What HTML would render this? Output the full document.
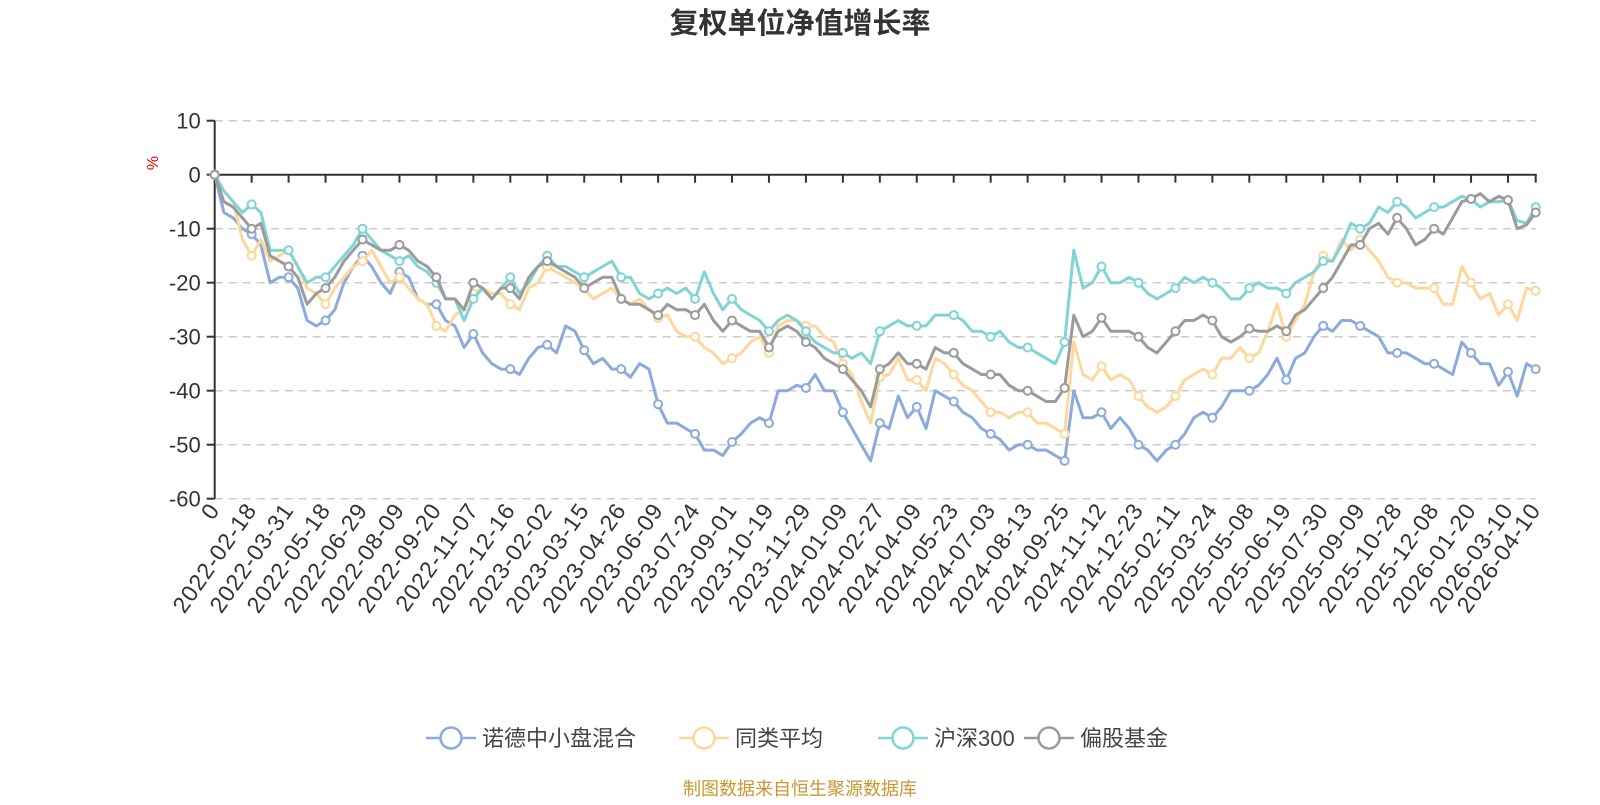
<!DOCTYPE html>
<html><head><meta charset="utf-8"><title>复权单位净值增长率</title>
<style>
html,body{margin:0;padding:0;background:#fff;}
body{width:1600px;height:800px;overflow:hidden;font-family:"Liberation Sans","Noto Sans CJK SC",sans-serif;}
svg text{font-family:"Liberation Sans","Noto Sans CJK SC",sans-serif;}
</style></head>
<body>
<svg id="chart" width="1600" height="800" xmlns="http://www.w3.org/2000/svg">
<text x="800" y="33" text-anchor="middle" font-size="29" font-weight="bold" fill="#333">复权单位净值增长率</text>
<text transform="translate(158,163) rotate(-90)" text-anchor="middle" font-size="16" fill="#e00">%</text>
<g id="grid"></g>
<g id="axes"></g>
<g id="series"></g>
<g id="legend"></g>
<text x="800" y="795" text-anchor="middle" font-size="18" fill="#c9962f">制图数据来自恒生聚源数据库</text>
</svg>
<script>
const xLabels = ["0","2022-02-18","2022-03-31","2022-05-18","2022-06-29","2022-08-09","2022-09-20","2022-11-07","2022-12-16","2023-02-02","2023-03-15","2023-04-26","2023-06-09","2023-07-24","2023-09-01","2023-10-19","2023-11-29","2024-01-09","2024-02-27","2024-04-09","2024-05-23","2024-07-03","2024-08-13","2024-09-25","2024-11-12","2024-12-23","2025-02-11","2025-03-24","2025-05-08","2025-06-19","2025-07-30","2025-09-09","2025-10-28","2025-12-08","2026-01-20","2026-03-10","2026-04-10"];
const yTicks = [10,0,-10,-20,-30,-40,-50,-60];
const seriesNames = ["诺德中小盘混合","同类平均","沪深300","偏股基金"];
const fundValues = [0,-7,-8,-10,-11,-13,-20,-19,-19,-21,-27,-28,-27,-25,-20,-17,-15,-17,-20,-22,-18,-19,-23,-24,-24,-27,-28,-32,-29.5,-33,-35,-36,-36,-37,-34,-32,-31.5,-33,-28,-29,-32.5,-35,-34,-36,-36,-37.5,-35,-36,-42.5,-46,-46,-47,-48,-51,-51,-52,-49.5,-48,-46,-45,-46,-40,-40,-39,-39.5,-37,-40,-40,-44,-47,-50,-53,-46,-47,-41,-45,-43,-47,-40,-41,-42,-44,-45,-47,-48,-49,-51,-50,-50,-51,-51,-52,-53,-40,-45,-45,-44,-47,-45,-47,-50,-51,-53,-51,-50,-48,-45,-44,-45,-43,-40,-40,-40,-39,-37,-34,-38,-34,-33,-30,-28,-29,-27,-27,-28,-29,-30,-33,-33,-33,-34,-35,-35,-36,-37,-31,-33,-35,-35,-39,-36.5,-41,-35,-36];
const peerValues = [0,-3,-5,-12,-15,-12,-16,-15,-14,-17,-21,-22,-24,-21,-19,-17,-16,-14,-17,-20,-19,-21,-23,-24,-28,-29,-26,-25,-22,-21,-22,-22,-24,-25,-21,-20,-17,-18,-19,-20,-21,-23,-22,-21,-23,-24,-23,-25,-26.5,-26,-29,-30,-30,-32,-33,-35,-34,-33,-31,-30,-33,-28,-27,-27,-28,-28,-30,-31,-35,-37,-42,-46,-37.5,-37,-34,-38,-38,-40,-34,-35,-37,-39,-40,-42,-44,-44,-45,-44,-44,-46,-46,-47,-48,-31,-37,-38,-35.5,-38,-37,-38,-41,-43,-44,-43,-41,-38,-37,-36,-37,-34,-34,-32,-34,-33,-29,-24,-30,-27,-24,-18,-15,-16,-12,-14,-12,-14,-16,-19,-20,-20,-21,-21,-21,-24,-24,-17,-20,-23,-22,-26,-24,-27,-21,-21.5];
const indexValues = [0,-3,-5,-7,-5.5,-7,-14,-14,-14,-17,-20,-19,-19,-17,-15,-13,-10,-12,-14,-15,-16,-15,-17,-18,-20,-23,-23,-27,-23,-21,-23,-21,-19,-22,-20,-17,-15,-17,-17,-18,-19,-18,-17,-16,-19,-19,-22,-23,-22,-21,-22,-21,-23,-18,-22,-25,-23,-25,-26,-27,-29,-27,-26,-27,-29,-31,-32,-33,-33,-34,-33,-35,-29,-28,-27,-28,-28,-28,-26,-26,-26,-27,-29,-29,-30,-29,-31,-32,-32,-33,-34,-35,-31,-14,-21,-20,-17,-20,-20,-19,-20,-22,-23,-22,-21,-19,-20,-19,-20,-21,-23,-23,-21,-20,-21,-21,-22,-20,-19,-18,-16,-16,-13,-9,-10,-9,-6,-7,-5,-6,-8,-7,-6,-6,-5,-4,-4.5,-6,-5,-5,-4.7,-8.5,-9,-6];
const equityValues = [0,-5,-6,-8,-10,-9,-15,-16,-17,-19,-24,-22,-21,-19,-16,-14,-12,-13,-14,-14,-13,-14,-16,-17,-19,-23,-23,-25,-20,-21,-23,-21,-21,-23,-19,-17,-16,-17,-18,-19,-21,-20,-19,-19,-23,-24,-24,-25,-26,-24,-25,-25,-26,-24,-27,-29,-27,-28,-29,-29,-32,-29,-28,-29,-31,-32,-34,-35,-36,-38,-40,-43,-36,-35,-33,-35,-35,-36,-32,-33,-33,-35,-36,-37,-37,-37,-39,-40,-40,-41,-42,-42,-39.5,-26,-30,-29,-26.5,-29,-29,-29,-30,-32,-33,-31,-29,-27,-27,-26,-27,-30,-31,-30,-28.5,-29,-29,-28,-29,-26,-25,-23,-21,-19,-16,-13,-13,-10,-9,-11,-8,-10,-13,-12,-10,-11,-8,-5,-4.5,-3.5,-5,-4,-4.7,-10,-9.3,-7];
const colors = ["#8aabdc","#fdd79b","#80d4d6","#9b9b9b"];

const NS = "http://www.w3.org/2000/svg";
const X0 = 214.7, X1 = 1535.7, Y0 = 174.7, PX10 = 54;
const N = fundValues.length;
function xScale(i){ return X0 + i * (X1 - X0) / (N - 1); }
function yScale(v){ return Y0 - v * PX10 / 10; }
function labelIndex(k){ return k === xLabels.length - 1 ? N - 1 : k * 4; }
function mk(tag, attrs, parent){
  const el = document.createElementNS(NS, tag);
  for (const k in attrs) el.setAttribute(k, attrs[k]);
  parent.appendChild(el);
  return el;
}
const grid = document.getElementById('grid');
const axes = document.getElementById('axes');
const ser = document.getElementById('series');
const leg = document.getElementById('legend');

yTicks.forEach(function(t){
  const y = yScale(t);
  if (t !== 0) {
    const g = mk('line', {x1:X0, x2:X1, y1:y, y2:y, stroke:'#ccc', 'stroke-width':1.5, 'stroke-dasharray':'8,6'}, grid);
    
    
  }
  const tk = mk('line', {x1:X0-8, x2:X0, y1:y, y2:y, stroke:'#333', 'stroke-width':2}, axes);
  
  
  const lb = mk('text', {x:X0-14, y:y+8, 'text-anchor':'end', 'font-size':22, fill:'#333'}, axes);
  lb.textContent = String(t);
  
  
});
const ya = mk('line', {x1:X0, x2:X0, y1:yScale(10), y2:yScale(-60), stroke:'#333', 'stroke-width':2}, axes);


const xa = mk('line', {x1:X0, x2:X1+1, y1:Y0, y2:Y0, stroke:'#333', 'stroke-width':2}, axes);


xLabels.forEach(function(lab, k){
  const x = xScale(labelIndex(k));
  const tk = mk('line', {x1:x, x2:x, y1:Y0, y2:Y0+8, stroke:'#333', 'stroke-width':2}, axes);
  
  
  const tx = mk('text', {transform:'translate('+(x+6)+',510) rotate(-55)', 'text-anchor':'end', 'font-size':23, fill:'#333', 'letter-spacing':'1'}, axes);
  tx.textContent = lab;
  
  
});

[fundValues, peerValues, indexValues, equityValues].forEach(function(vals, s){
  const g = mk('g', {}, ser);
  
  
  const d = vals.map(function(v, i){ return (i ? 'L' : 'M') + xScale(i).toFixed(1) + ',' + yScale(v).toFixed(1); }).join('');
  const p = mk('path', {d:d, fill:'none', stroke:colors[s], 'stroke-width':3, 'stroke-linejoin':'round'}, g);
  
  
  xLabels.forEach(function(_, k){
    const i = labelIndex(k);
    const c = mk('circle', {cx:xScale(i), cy:yScale(vals[i]), r:4, fill:'#fff', stroke:colors[s], 'stroke-width':2}, g);
    
    
  });
});

const legX = [426, 679, 878, 1024];
seriesNames.forEach(function(name, s){
  const x = legX[s], y = 738;
  const g = mk('g', {}, leg);
  
  
  mk('line', {x1:x, x2:x+50, y1:y, y2:y, stroke:colors[s], 'stroke-width':2.5}, g);
  mk('circle', {cx:x+25, cy:y, r:10.5, fill:'#fff', stroke:colors[s], 'stroke-width':2.5}, g);
  const t = mk('text', {x:x+56, y:y+8, 'font-size':22, fill:'#444'}, g);
  t.textContent = name;
  
  
});
</script>
</body></html>
